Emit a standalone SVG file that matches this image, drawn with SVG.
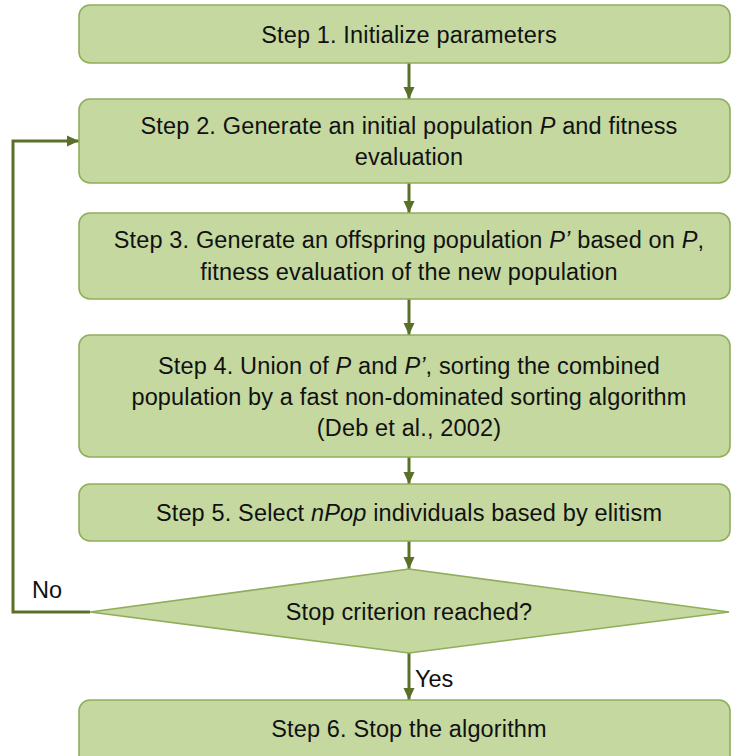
<svg xmlns="http://www.w3.org/2000/svg" width="731" height="756" viewBox="0 0 731 756">
<defs>
<style>
.box{fill:#c4d8a0;stroke:#8fae5b;stroke-width:1.6}
.t{font-family:"Liberation Sans",Arial,sans-serif;font-size:23.5px;letter-spacing:0.15px;fill:#111;text-anchor:middle}
.l{font-family:"Liberation Sans",Arial,sans-serif;font-size:23.5px;fill:#111}
.i{font-style:italic}
.c{fill:none;stroke:#5a7029;stroke-width:3}
</style>
<marker id="ah" markerUnits="userSpaceOnUse" markerWidth="12" markerHeight="12" viewBox="0 0 12 12" refX="12" refY="6" orient="auto">
<path d="M0,0.5 L12,6 L0,11.5 Z" fill="#5a7029"/>
</marker>
</defs>
<rect width="731" height="756" fill="#fff"/>
<g id="connectors">
<line class="c" x1="409" y1="63" x2="409" y2="99" marker-end="url(#ah)"/>
<line class="c" x1="409" y1="183" x2="409" y2="213" marker-end="url(#ah)"/>
<line class="c" x1="409" y1="299" x2="409" y2="335" marker-end="url(#ah)"/>
<line class="c" x1="409" y1="457" x2="409" y2="484" marker-end="url(#ah)"/>
<line class="c" x1="409" y1="541" x2="409" y2="569" marker-end="url(#ah)"/>
<line class="c" x1="409" y1="653" x2="409" y2="700" marker-end="url(#ah)"/>
<polyline class="c" points="90,612 13,612 13,141 79,141" marker-end="url(#ah)"/>
<text class="l" x="32" y="598">No</text>
<text class="l" x="415" y="687">Yes</text>
</g>
<g id="step1">
<rect class="box" x="79" y="5" width="651" height="58" rx="11"/>
<text class="t" x="409" y="43">Step 1. Initialize parameters</text>
</g>
<g id="step2">
<rect class="box" x="79" y="99" width="651" height="84" rx="11"/>
<text class="t" x="409" y="134">Step 2. Generate an initial population <tspan class="i">P</tspan> and fitness</text>
<text class="t" x="409" y="165">evaluation</text>
</g>
<g id="step3">
<rect class="box" x="79" y="213" width="651" height="86" rx="11"/>
<text class="t" x="409" y="248">Step 3. Generate an offspring population <tspan class="i">P’</tspan> based on <tspan class="i">P</tspan>,</text>
<text class="t" x="409" y="280">fitness evaluation of the new population</text>
</g>
<g id="step4">
<rect class="box" x="79" y="335" width="651" height="122" rx="11"/>
<text class="t" x="409" y="374">Step 4. Union of <tspan class="i">P</tspan> and <tspan class="i">P’</tspan>, sorting the combined</text>
<text class="t" x="409" y="405">population by a fast non-dominated sorting algorithm</text>
<text class="t" x="409" y="436">(Deb et al., 2002)</text>
</g>
<g id="step5">
<rect class="box" x="79" y="484" width="651" height="57" rx="11"/>
<text class="t" x="409" y="521">Step 5. Select <tspan class="i">nPop</tspan> individuals based by elitism</text>
</g>
<g id="decision">
<polygon class="box" points="409,569 729,612 409,653 90,612"/>
<text class="t" x="409" y="620">Stop criterion reached?</text>
</g>
<g id="step6">
<rect class="box" x="79" y="700" width="651" height="70" rx="11"/>
<text class="t" x="409" y="737">Step 6. Stop the algorithm</text>
</g>
</svg>
